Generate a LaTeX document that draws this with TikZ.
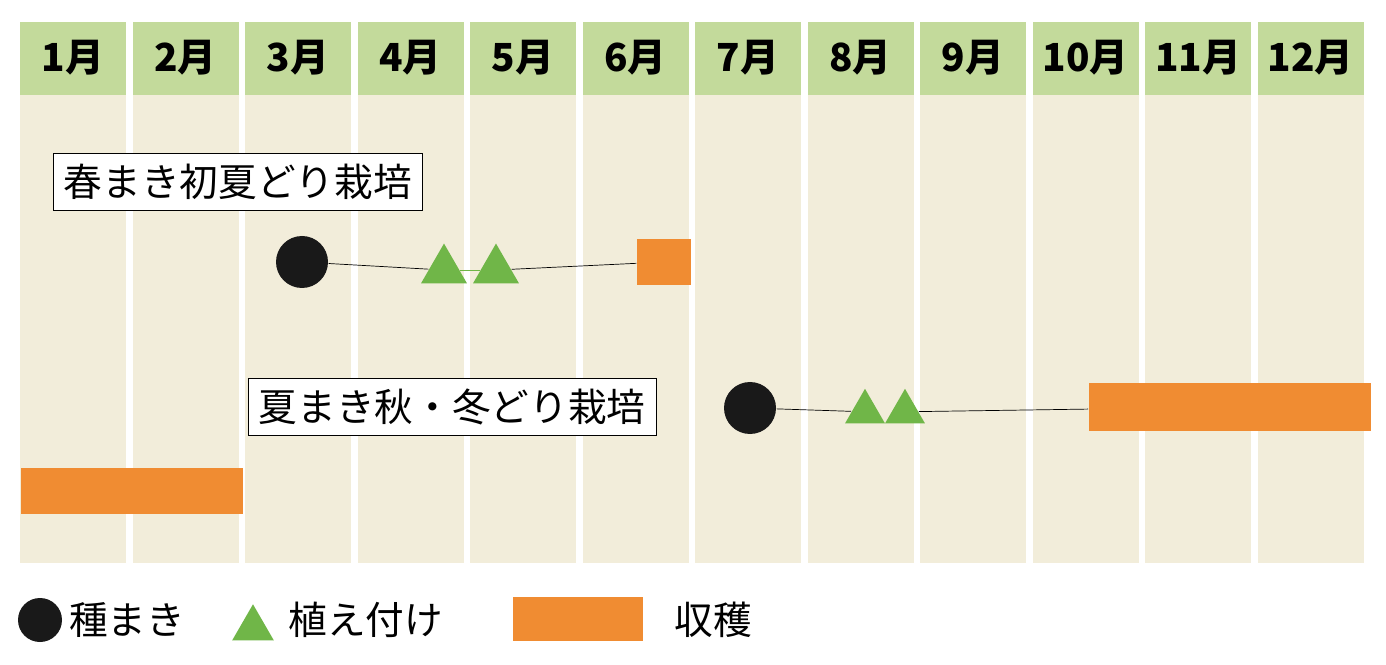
\documentclass[tikz,border=0pt]{standalone}
\usepackage{fontspec}
\setmainfont{Noto Sans CJK JP}
\usetikzlibrary{shapes.geometric}
\definecolor{headgreen}{RGB}{195,218,155}
\definecolor{bodybeige}{RGB}{242,237,218}
\definecolor{harvest}{RGB}{240,140,50}
\definecolor{plant}{RGB}{112,182,72}
\begin{document}
\begin{tikzpicture}[x=0.02cm,y=-0.02cm,thick,
    month/.style={font=\fontsize{22}{24}\selectfont\bfseries},
    plan label/.style={draw,thin,fill=white,inner sep=6pt,font=\fontsize{22}{24}\selectfont},
    sow/.style={circle,fill=black!90,minimum size=52*0.02cm,inner sep=0},
    set/.style={regular polygon,regular polygon sides=3,fill=plant,minimum size=53*0.02cm,inner sep=0},
    legend text/.style={anchor=west,font=\fontsize{22}{24}\selectfont}]
\useasboundingbox (0,0) rectangle (1386,665);
\fill[white] (0,0) rectangle (1386,665);

% month columns
\foreach \m in {1,...,12}{
  \pgfmathsetmacro\xl{20+112.5*(\m-1)}
  \fill[bodybeige] (\xl,95) rectangle ++(106,468);
  \fill[headgreen] (\xl,22) rectangle ++(106,73);
  \node[month] (m\m) at (\xl+53,58) {\m 月};
}

% spring sowing
\node[plan label,anchor=north west] (lab1) at (53,153) {春まき初夏どり栽培};
\node[sow] (s1) at (302,262) {};
\node[set,anchor=south] (t1) at (444,284) {};
\node[set,anchor=south] (t2) at (496,284) {};
\node[fill=harvest,minimum width=54*0.02cm,minimum height=46*0.02cm,inner sep=0] (h1) at (664,262) {};
\draw[thin] (s1) -- (t1);
\draw[thin,plant] (t1) -- (t2);
\draw[thin] (t2) -- (h1);

% summer sowing
\node[plan label,anchor=north west] (lab2) at (248,378) {夏まき秋・冬どり栽培};
\node[sow] (s2) at (750,408) {};
\node[set,anchor=south,minimum size=46*0.02cm] (t3) at (865,424) {};
\node[set,anchor=south,minimum size=46*0.02cm] (t4) at (905,424) {};
\node[fill=harvest,minimum width=282*0.02cm,minimum height=47*0.02cm,inner sep=0,anchor=west] (h2) at (1088,407) {};
\draw[thin] (s2) -- (t3);
\draw[thin] (t4) -- (h2);
\node[fill=harvest,minimum width=222*0.02cm,minimum height=46*0.02cm,inner sep=0,anchor=west] (h3) at (20,491) {};

% legend
\node[sow,minimum size=44*0.02cm] (ls) at (40,620) {};
\node[legend text] (lst) at (ls.east) {種まき};
\node[set,anchor=south,minimum size=48*0.02cm] (lt) at (253,641) {};
\node[legend text] (ltt) at (282,620) {植え付け};
\node[fill=harvest,minimum width=130*0.02cm,minimum height=44*0.02cm,inner sep=0] (lh) at (578,619) {};
\node[legend text] (lht) at (668,620) {収穫};
\end{tikzpicture}
\end{document}
